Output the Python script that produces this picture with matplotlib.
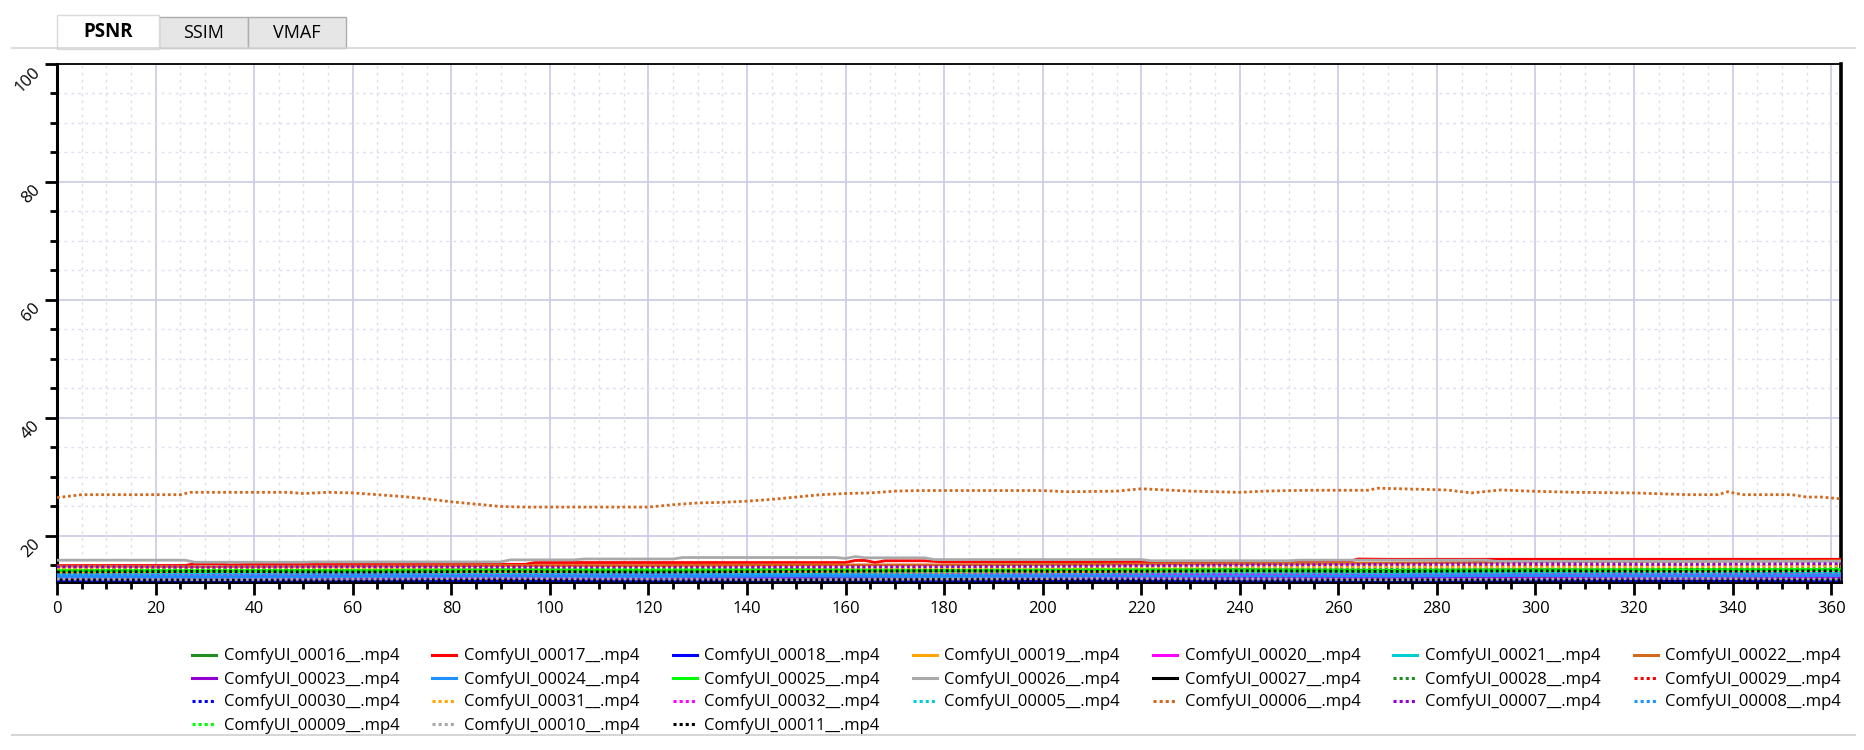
import numpy as np
import matplotlib
matplotlib.use("Agg")
import matplotlib.pyplot as plt
from matplotlib.patches import Rectangle
from matplotlib.lines import Line2D
from matplotlib.ticker import MultipleLocator

plt.rcParams['font.family'] = ['Open Sans', 'DejaVu Sans']

W, H = 1865, 750

# ---- data ----
names = ["ComfyUI_00016__.mp4", "ComfyUI_00017__.mp4", "ComfyUI_00018__.mp4",
         "ComfyUI_00019__.mp4", "ComfyUI_00020__.mp4", "ComfyUI_00021__.mp4",
         "ComfyUI_00022__.mp4", "ComfyUI_00023__.mp4", "ComfyUI_00024__.mp4",
         "ComfyUI_00025__.mp4", "ComfyUI_00026__.mp4", "ComfyUI_00027__.mp4",
         "ComfyUI_00028__.mp4", "ComfyUI_00029__.mp4", "ComfyUI_00030__.mp4",
         "ComfyUI_00031__.mp4", "ComfyUI_00032__.mp4", "ComfyUI_00005__.mp4",
         "ComfyUI_00006__.mp4", "ComfyUI_00007__.mp4", "ComfyUI_00008__.mp4",
         "ComfyUI_00009__.mp4", "ComfyUI_00010__.mp4", "ComfyUI_00011__.mp4"]

palette = ["#228b22", "#ff0000", "#0000ff", "#ffa500", "#ff00ff", "#00ced1",
           "#d2691e", "#9400d3", "#1e90ff", "#00ff00", "#a9a9a9", "#000000"]
colors = palette + palette
dotted = [False] * 12 + [True] * 12

# frames where the crowded low series were sampled
cx = [0, 30, 60, 90, 120, 150, 180, 210, 240, 270, 300, 330, 362]
cluster = {
    "ComfyUI_00016__.mp4": [14.0, 14.0, 14.1, 14.0, 14.1, 14.2, 14.1, 14.2, 14.3, 14.2, 14.3, 14.2, 14.3],
    "ComfyUI_00018__.mp4": [12.9, 12.9, 13.0, 12.9, 12.9, 13.0, 12.9, 12.8, 12.9, 12.9, 12.8, 12.9, 12.9],
    "ComfyUI_00019__.mp4": [13.7, 13.6, 13.7, 13.8, 13.7, 13.8, 13.7, 13.9, 14.0, 13.9, 14.1, 14.2, 14.2],
    "ComfyUI_00020__.mp4": [13.2, 13.3, 13.2, 13.4, 13.3, 13.2, 13.3, 13.2, 13.1, 13.2, 13.3, 13.2, 13.3],
    "ComfyUI_00021__.mp4": [13.4, 13.5, 13.6, 13.5, 13.6, 13.5, 13.4, 13.5, 13.6, 13.6, 13.7, 13.6, 13.7],
    "ComfyUI_00022__.mp4": [14.9, 14.8, 14.9, 15.0, 15.0, 15.1, 15.1, 15.2, 15.3, 15.4, 15.6, 15.7, 15.8],
    "ComfyUI_00023__.mp4": [12.8, 12.8, 12.9, 12.8, 12.9, 12.8, 12.9, 13.0, 12.9, 12.8, 12.9, 12.9, 12.8],
    "ComfyUI_00024__.mp4": [13.1, 13.0, 13.1, 13.2, 13.1, 13.2, 13.1, 13.2, 13.3, 13.2, 13.3, 13.2, 13.3],
    "ComfyUI_00025__.mp4": [14.2, 14.1, 14.2, 14.3, 14.2, 14.3, 14.2, 14.3, 14.2, 14.1, 14.2, 14.3, 14.3],
    "ComfyUI_00027__.mp4": [12.5, 12.5, 12.4, 12.5, 12.4, 12.5, 12.6, 12.5, 12.4, 12.5, 12.5, 12.4, 12.5],
    "ComfyUI_00028__.mp4": [14.4, 14.3, 14.4, 14.5, 14.4, 14.5, 14.4, 14.5, 14.6, 14.5, 14.6, 14.5, 14.6],
    "ComfyUI_00029__.mp4": [14.7, 14.6, 14.7, 14.8, 14.7, 14.8, 14.7, 14.9, 15.0, 14.9, 15.0, 15.1, 15.1],
    "ComfyUI_00030__.mp4": [12.4, 12.4, 12.5, 12.4, 12.4, 12.5, 12.4, 12.5, 12.4, 12.4, 12.5, 12.4, 12.4],
    "ComfyUI_00031__.mp4": [14.5, 14.6, 14.5, 14.6, 14.5, 14.4, 14.5, 14.6, 14.7, 14.8, 14.7, 14.8, 14.9],
    "ComfyUI_00032__.mp4": [13.5, 13.4, 13.5, 13.4, 13.5, 13.6, 13.5, 13.4, 13.5, 13.6, 13.5, 13.4, 13.5],
    "ComfyUI_00005__.mp4": [13.8, 13.8, 13.9, 13.8, 13.9, 13.8, 13.9, 14.0, 13.9, 13.8, 13.9, 14.0, 13.9],
    "ComfyUI_00007__.mp4": [14.8, 14.7, 14.8, 14.7, 14.6, 14.7, 14.8, 14.9, 15.1, 15.2, 15.3, 15.2, 15.3],
    "ComfyUI_00008__.mp4": [13.3, 13.2, 13.3, 13.2, 13.3, 13.4, 13.3, 13.2, 13.1, 13.2, 13.3, 13.2, 13.3],
    "ComfyUI_00009__.mp4": [14.1, 14.2, 14.1, 14.2, 14.3, 14.2, 14.1, 14.2, 14.3, 14.2, 14.3, 14.2, 14.4],
    "ComfyUI_00010__.mp4": [12.7, 12.6, 12.7, 12.8, 12.7, 12.6, 12.7, 12.8, 12.7, 12.6, 12.7, 12.8, 12.7],
    "ComfyUI_00011__.mp4": [13.9, 14.0, 13.9, 14.0, 13.9, 14.0, 14.1, 14.0, 14.1, 14.0, 14.1, 14.0, 14.1],
}

red_x = [0, 26, 28, 33, 35, 44, 46, 95, 97, 160, 162, 164, 166, 168, 176, 180, 262, 264, 270, 280, 362]
red_y = [15.0, 15.0, 15.3, 15.3, 15.1, 15.3, 15.2, 15.2, 15.5, 15.5, 15.85, 15.85, 15.5, 15.8, 15.8,
         15.6, 15.65, 16.1, 16.05, 16.05, 16.05]

gray_x = [0, 26, 28, 50, 52, 90, 92, 105, 107, 125, 127, 158, 160, 162, 164, 176, 178, 220, 222,
          250, 252, 290, 292, 362]
gray_y = [15.9, 15.9, 15.55, 15.55, 15.6, 15.6, 15.95, 15.95, 16.1, 16.1, 16.35, 16.35, 16.2, 16.5,
          16.3, 16.3, 16.0, 16.0, 15.8, 15.8, 15.9, 15.9, 15.7, 15.7]

orange_x = [0, 5, 25, 27, 47, 50, 55, 60, 65, 70, 75, 80, 85, 90, 95, 120, 125, 130, 135, 140, 145,
            150, 155, 160, 165, 170, 175, 200, 205, 215, 220, 225, 230, 240, 245, 250, 255, 266,
            268, 282, 287, 293, 299, 308, 320, 331, 337, 339, 342, 352, 355, 358, 362]
orange_y = [26.5, 27.0, 27.0, 27.4, 27.4, 27.2, 27.4, 27.3, 27.0, 26.7, 26.3, 25.8, 25.4, 25.0,
            24.9, 24.9, 25.3, 25.6, 25.7, 25.9, 26.2, 26.6, 27.0, 27.2, 27.3, 27.6, 27.7, 27.7,
            27.5, 27.6, 28.0, 27.8, 27.6, 27.4, 27.6, 27.7, 27.75, 27.75, 28.1, 27.8, 27.3, 27.8,
            27.6, 27.4, 27.3, 27.0, 27.0, 27.5, 27.0, 27.0, 26.6, 26.6, 26.3]

dot_style = (0, (1.0, 1.0))

# ---- figure ----
fig = plt.figure(figsize=(W / 100, H / 100), dpi=100)
fig.patch.set_facecolor("white")
ax = fig.add_axes([57 / W, 1 - 582 / H, (1841 - 57) / W, (582 - 64) / H])

handles = []
for name, col, dot in zip(names, colors, dotted):
    if name == "ComfyUI_00017__.mp4":
        xs, ys = red_x, red_y
    elif name == "ComfyUI_00026__.mp4":
        xs, ys = gray_x, gray_y
    elif name == "ComfyUI_00006__.mp4":
        xs, ys = orange_x, orange_y
    else:
        xs, ys = cx, cluster[name]
    ls = dot_style if dot else "-"
    ax.plot(xs, ys, color=col, lw=2.0, ls=ls, zorder=3)
    handles.append(Line2D([], [], color=col, lw=2.2, ls=ls))

ax.set_xlim(0, 362)
ax.set_ylim(12.2, 100)
ax.xaxis.set_major_locator(MultipleLocator(20))
ax.xaxis.set_minor_locator(MultipleLocator(5))
ax.yaxis.set_major_locator(MultipleLocator(20))
ax.yaxis.set_minor_locator(MultipleLocator(5))

ax.grid(which="major", color="#cacae4", lw=1.2, ls="-", zorder=0)
ax.grid(which="minor", color="#dedef0", lw=1.0, ls=(0, (2, 3)), zorder=0)
ax.set_axisbelow(True)

ax.tick_params(which="major", length=9, width=2, color="black", labelsize=12)
ax.tick_params(which="minor", length=5, width=2, color="black")
ax.tick_params(axis="x", pad=5)
ax.tick_params(axis="y", pad=1)
for lbl in ax.get_yticklabels():
    lbl.set_rotation(45)
    lbl.set_ha("right")
    lbl.set_va("top")

for side, lw in [("left", 2.2), ("bottom", 2.2), ("right", 2.6), ("top", 1.3)]:
    ax.spines[side].set_linewidth(lw)
    ax.spines[side].set_color("black")

# legend is filled row by row in the original, matplotlib fills by column
ncol = 7
n = len(names)
order = []
for c in range(ncol):
    r = 0
    while r * ncol + c < n:
        order.append(r * ncol + c)
        r += 1
fig.legend([handles[i] for i in order], [names[i] for i in order],
           loc="upper left", bbox_to_anchor=(192 / W, 1 - 648.5 / H), ncol=ncol,
           frameon=False, fontsize=12, handlelength=1.45, handletextpad=0.45,
           columnspacing=1.97, labelspacing=0.42, borderpad=0, borderaxespad=0)

# ---- tab strip ----
def px_rect(x0, y0, x1, y1, **kw):
    fig.add_artist(Rectangle((x0 / W, 1 - y1 / H), (x1 - x0) / W, (y1 - y0) / H,
                             transform=fig.transFigure, **kw))

fig.add_artist(Line2D([12 / W, 1855 / W], [1 - 48 / H, 1 - 48 / H],
                      transform=fig.transFigure, color="#d4d4d4", lw=1.2))
px_rect(159, 17, 248, 48, facecolor="#e6e6e6", edgecolor="#adadad", lw=1.0)
px_rect(248, 17, 346, 48, facecolor="#e6e6e6", edgecolor="#adadad", lw=1.0)
px_rect(57, 15, 159, 48.5, facecolor="white", edgecolor="#d9d9d9", lw=1.0)
fig.text(108 / W, 1 - 32 / H, "PSNR", ha="center", va="center",
         fontsize=13.5, fontweight="bold", color="black")
fig.text(204 / W, 1 - 33 / H, "SSIM", ha="center", va="center", fontsize=13, color="black")
fig.text(297 / W, 1 - 33 / H, "VMAF", ha="center", va="center", fontsize=13, color="black")

fig.add_artist(Line2D([12 / W, 1855 / W], [1 - 735 / H, 1 - 735 / H],
                      transform=fig.transFigure, color="#d6d6d6", lw=1.5))

fig.savefig("out.png", dpi=100)
